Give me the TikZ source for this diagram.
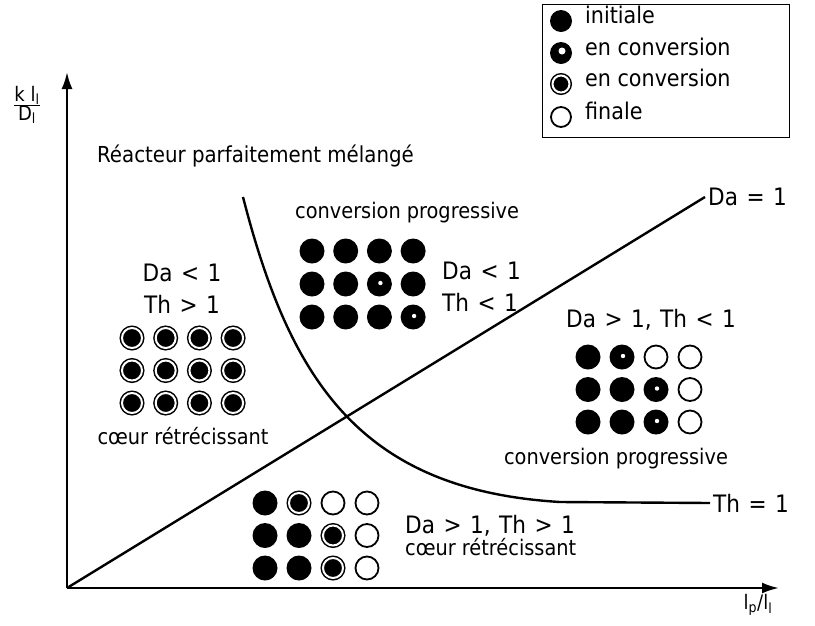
\documentclass[tikz,border=0pt]{standalone}
\usepackage{fontspec}
\setmainfont{DejaVu Sans Condensed}
\usetikzlibrary{arrows.meta}

\tikzset{
  txt/.style={font=\fontsize{21.5}{24}\selectfont,inner sep=0pt},
  formule/.style={font={\fontsize{24}{26}\selectfont\spaceskip 8.5pt\relax},inner sep=0pt},
  initiale/.style={circle,fill=black,minimum size=25pt,inner sep=0pt},
  conversion/.style={initiale,path picture={\fill[white] ([xshift=1pt,yshift=1pt]path picture bounding box.center) circle (2.2pt);}},
  anneau/.style={circle,fill=black,draw=black,double=white,double distance=2pt,line width=1.5pt,minimum size=20pt,inner sep=0pt},
  finale/.style={circle,draw=black,line width=1.8pt,fill=white,minimum size=23pt,inner sep=0pt},
  trait/.style={line width=2.4pt}
}

\begin{document}
\begin{tikzpicture}[x=1pt,y=-1pt]
	\useasboundingbox (0,0) rectangle (815,625);

	% axes
	\coordinate (origine) at (67,588);
	\coordinate (ymax) at (67,72);
	\coordinate (xmax) at (779,588);
	\draw[trait,-{Latex[length=17pt,width=11pt]}] (origine) -- (ymax);
	\draw[trait,-{Latex[length=17pt,width=11pt]}] (origine) -- (xmax);
	\node[font=\fontsize{20}{22}\selectfont] (ylab) at (27,105)
		{$\frac{\mbox{k l\textsubscript{l}}}{\mbox{D\textsubscript{l}}}$};
	\node[font=\fontsize{20}{22}\selectfont] (xlab) at (758,605) {l\textsubscript{p}/l\textsubscript{l}};

	% Da = 1
	\coordinate (da) at (705,197);
	\draw[trait] (origine) -- (da);
	\node[formule,anchor=west] (dalab) at ([xshift=3pt]da) {Da = 1};

	% Th = 1
	\coordinate (thdebut) at (243,197);
	\coordinate (thfin) at (710,503);
	\draw[trait] (thdebut) .. controls (290,380) and (360,490) .. (560,502) -- (thfin);
	\node[formule,anchor=west] (thlab) at ([xshift=3pt]thfin) {Th = 1};

	\node[txt,font=\fontsize{22}{24}\selectfont,anchor=mid west] (reacteur) at (97,160) {Réacteur parfaitement mélangé};

	% grille du haut
	\node[txt,anchor=mid west] (cp1) at (295,216) {conversion progressive};
	\foreach \t [count=\i] in {initiale,initiale,initiale,initiale,
	                           initiale,initiale,conversion,initiale,
	                           initiale,initiale,initiale,conversion}
		\node[\t] (haut-\i) at ({312+33.7*mod(\i-1,4)},{251+33*div(\i-1,4)}) {};
	\node[formule,anchor=base west] (da1) at (442,279) {Da < 1};
	\node[formule,anchor=base west] (th1) at (442,311) {Th < 1};

	% grille de gauche
	\node[formule,anchor=base] (da2) at (182,281) {Da < 1};
	\node[formule,anchor=base] (th2) at (182,313) {Th > 1};
	\foreach \i in {1,...,12}
		\node[anneau] (gauche-\i) at ({132+33.7*mod(\i-1,4)},{338+32.5*div(\i-1,4)}) {};
	\node[txt,anchor=base] (cr1) at (183,444) {cœur rétrécissant};

	% grille de droite
	\node[formule,anchor=base west] (dath1) at (566,327) {Da > 1, Th < 1};
	\foreach \t [count=\i] in {initiale,conversion,finale,finale,
	                           initiale,initiale,conversion,finale,
	                           initiale,initiale,conversion,finale}
		\node[\t] (droite-\i) at ({588+34*mod(\i-1,4)},{357+32.5*div(\i-1,4)}) {};
	\node[txt,anchor=base] (cp2) at (616,464) {conversion progressive};

	% grille du bas
	\foreach \t [count=\i] in {initiale,anneau,finale,finale,
	                           initiale,initiale,anneau,finale,
	                           initiale,initiale,anneau,finale}
		\node[\t] (bas-\i) at ({265+34*mod(\i-1,4)},{503+32.5*div(\i-1,4)}) {};
	\node[formule,anchor=base west] (dath2) at (405,533) {Da > 1, Th > 1};
	\node[txt,anchor=base west] (cr2) at (405,555) {cœur rétrécissant};

	% legende
	\node[draw,line width=1.2pt,minimum width=247pt,minimum height=133pt,anchor=north west] (legende) at (542,4) {};
	\node[initiale,minimum size=22pt] (leg1) at (561,21) {};
	\node[conversion,minimum size=22pt,path picture={\fill[white] ([xshift=1pt,yshift=2pt]path picture bounding box.center) circle (3.5pt);}] (leg2) at (561,53) {};
	\node[anneau,minimum size=17pt] (leg3) at (561,84) {};
	\node[finale,minimum size=20pt] (leg4) at (561,117) {};
	\begin{scope}[every node/.style={txt,font=\fontsize{23}{26}\selectfont,anchor=mid west}]
		\node (legt1) at (585,21) {initiale};
		\node (legt2) at (585,53) {en conversion};
		\node (legt3) at (585,84) {en conversion};
		\node (legt4) at (585,117) {finale};
	\end{scope}
\end{tikzpicture}
\end{document}
